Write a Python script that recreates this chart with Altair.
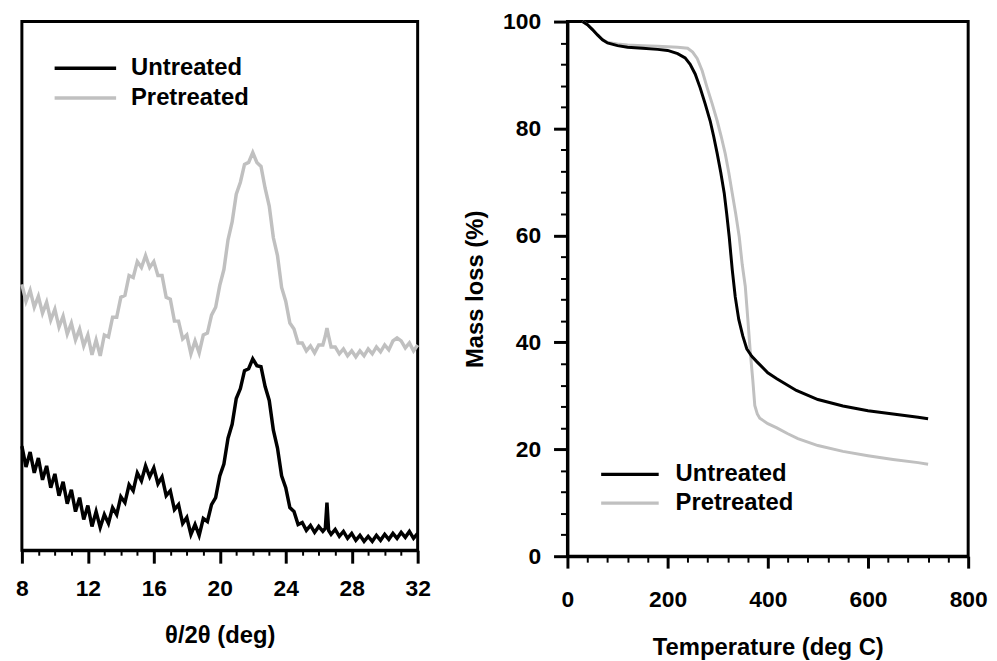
import altair as alt
import pandas as pd

# ---------------- XRD panel data (intensity in arbitrary units) ----------------
xrd_angle = sorted(set([round(8 + 0.25 * i, 2) for i in range(97)] + [26.4, 26.6]))

untreated_intensity = [
    105, 84, 99, 78,
    93, 71, 85, 63,
    77, 55, 69, 47,
    61, 39, 53, 31,
    45, 24, 39, 23,
    36, 27, 43, 36,
    54, 48, 66, 60,
    78, 70, 85, 74,
    83, 67, 74, 55,
    60, 41, 46, 27,
    33, 16, 26, 15,
    32, 29, 46, 53,
    75, 87, 113, 127,
    153, 163, 181, 183,
    193, 186, 185, 165,
    151, 121, 103, 75,
    63, 43, 39, 26,
    28, 20, 25, 18,
    24, 19, 22, 48, 20, 16,
    21, 14, 19, 12,
    17, 10, 15, 9,
    14, 9, 15, 10,
    16, 11, 17, 12,
    18, 13, 19, 12,
    17,
]

pretreated_intensity = [
    268, 251, 262, 245,
    256, 239, 250, 232,
    243, 225, 236, 218,
    229, 212, 223, 206,
    217, 197, 212, 196,
    217, 215, 235, 235,
    255, 257, 277, 275,
    291, 285, 297, 285,
    291, 277, 277, 255,
    253, 231, 231, 213,
    217, 198, 211, 199,
    217, 219, 237, 245,
    267, 283, 313, 331,
    359, 371, 389, 391,
    401, 391, 387, 365,
    347, 315, 297, 265,
    251, 229, 223, 209,
    209, 201, 206, 199,
    207, 207, 216, 224, 216, 205,
    205, 198, 203, 196,
    201, 195, 201, 196,
    203, 198, 205, 200,
    207, 202, 211, 214,
    211, 204, 209, 201,
    207,
]

# ---------------- TGA panel data ----------------
untreated_temp = [30, 40, 50, 60, 70, 80, 100, 120, 150, 180, 200, 220, 235, 245, 255,
                  265, 275, 285, 292, 299, 306, 313, 318, 323, 329, 335, 342, 350, 358,
                  368, 378, 400, 418, 457, 500, 550, 600, 650, 700, 720]
untreated_mass = [100, 99.4, 98.5, 97.5, 96.6, 96.0, 95.5, 95.2, 95.0, 94.8, 94.6, 94.0,
                  93.2, 92.0, 90.2, 87.6, 84.6, 81.4, 78.5, 75.3, 71.8, 67.9, 64.0, 59.7,
                  53.6, 48.5, 44.3, 41.2, 38.8, 37.4, 36.4, 34.3, 33.2, 31.0, 29.3, 28.1,
                  27.2, 26.6, 26.0, 25.7]

pretreated_temp = [30, 40, 50, 60, 70, 80, 100, 120, 150, 180, 200, 220, 240, 250, 259,
                   269, 279, 289, 299, 307, 315, 322, 329, 336, 343, 349, 355, 360, 365,
                   370, 374, 379, 384, 400, 418, 440, 460, 500, 550, 600, 650, 700, 720]
pretreated_mass = [100, 99.4, 98.5, 97.5, 96.6, 96.1, 95.8, 95.6, 95.5, 95.4, 95.3, 95.2,
                   95.0, 94.3, 93.1, 90.8, 87.6, 84.6, 81.4, 78.5, 75.3, 71.8, 67.9, 64.0,
                   59.7, 54.5, 50.5, 44.5, 38.2, 33.0, 28.2, 26.6, 25.8, 24.8, 24.0, 22.9,
                   22.0, 20.7, 19.6, 18.8, 18.1, 17.5, 17.2]

series_names = ["Untreated", "Pretreated"]
series_colors = ["#000000", "#c0c0c0"]

# tick values (major + minor)
xrd_ticks = list(range(8, 33, 1))
temp_ticks = list(range(0, 801, 40))
mass_ticks = list(range(0, 101, 4))

xrd_df = pd.concat([
    pd.DataFrame({"angle": xrd_angle, "intensity": untreated_intensity, "Sample": "Untreated", "o": 1}),
    pd.DataFrame({"angle": xrd_angle, "intensity": pretreated_intensity, "Sample": "Pretreated", "o": 0}),
])
tga_df = pd.concat([
    pd.DataFrame({"temp": pretreated_temp, "mass": pretreated_mass, "Sample": "Pretreated", "o": 0}),
    pd.DataFrame({"temp": untreated_temp, "mass": untreated_mass, "Sample": "Untreated", "o": 1}),
])

FONT = "Liberation Sans"


def axis_common():
    return dict(
        domainColor="black", domainWidth=3, tickColor="black",
        labelColor="black", titleColor="black", labelFont=FONT, titleFont=FONT,
        labelFontSize=23, labelFontWeight="bold", titleFontSize=24, titleFontWeight="bold",
        labelOverlap=False, labelFlush=False, grid=False, labelBound=False,
    )


xrd_x_axis = alt.Axis(
    values=xrd_ticks, title="θ/2θ (deg)",
    labelExpr="datum.value % 4 === 0 ? datum.label : ''",
    tickSize={"condition": {"test": "datum.value % 4 === 0", "value": 13}, "value": 5},
    tickWidth={"condition": {"test": "datum.value % 4 === 0", "value": 3}, "value": 2},
    labelPadding=15, titlePadding=23, **axis_common(),
)

temp_axis = alt.Axis(
    values=temp_ticks, title="Temperature (deg C)",
    labelExpr="datum.value % 200 === 0 ? datum.label : ''",
    tickSize={"condition": {"test": "datum.value % 200 === 0", "value": 12}, "value": 6},
    tickWidth={"condition": {"test": "datum.value % 200 === 0", "value": 3}, "value": 2},
    labelPadding=21, titlePadding=24, **axis_common(),
)

mass_axis = alt.Axis(
    values=mass_ticks, title="Mass loss (%)",
    labelExpr="datum.value % 20 === 0 ? datum.label : ''",
    tickSize={"condition": {"test": "datum.value % 20 === 0", "value": 14}, "value": 7},
    tickWidth={"condition": {"test": "datum.value % 20 === 0", "value": 3}, "value": 2},
    labelPadding=13, titlePadding=15, **axis_common(),
)


def legend(x, y, size, offset, h):
    return alt.Legend(
        title=None, orient="none", legendX=x, legendY=y, symbolType="stroke",
        symbolSize=size, symbolStrokeWidth=3.5, labelFont=FONT, labelFontSize=24,
        labelFontWeight="bold", labelColor="black", labelOffset=offset,
        clipHeight=h, rowPadding=0, padding=0, symbolOpacity=1,
    )


left = alt.Chart(xrd_df).mark_line(strokeWidth=3.5).encode(
    x=alt.X("angle:Q", scale=alt.Scale(domain=[8, 32], nice=False, zero=False), axis=xrd_x_axis),
    y=alt.Y("intensity:Q", scale=alt.Scale(domain=[0, 533], nice=False), axis=None),
    color=alt.Color("Sample:N", scale=alt.Scale(domain=series_names, range=series_colors),
                    legend=legend(31, 32, 3844, 13, 30)),
    order=alt.Order("o:Q"),
).properties(width=399, height=533)

right = alt.Chart(tga_df).mark_line(strokeWidth=3).encode(
    x=alt.X("temp:Q", scale=alt.Scale(domain=[0, 800], nice=False), axis=temp_axis),
    y=alt.Y("mass:Q", scale=alt.Scale(domain=[0, 100], nice=False), axis=mass_axis),
    color=alt.Color("Sample:N", scale=alt.Scale(domain=series_names, range=series_colors),
                    legend=legend(32, 442, 3364, 15, 29)),
    detail="o:N",
).properties(width=404, height=539)

chart = alt.hconcat(left, right, spacing=151, bounds="flush").resolve_scale(
    color="independent"
).resolve_legend(color="independent").properties(
    padding={"left": 5, "top": -2, "right": 0, "bottom": 0}
).configure(font=FONT, background="white").configure_view(stroke="black", strokeWidth=3)

chart.save("out.html", embed_options={"renderer": "svg", "actions": False})
